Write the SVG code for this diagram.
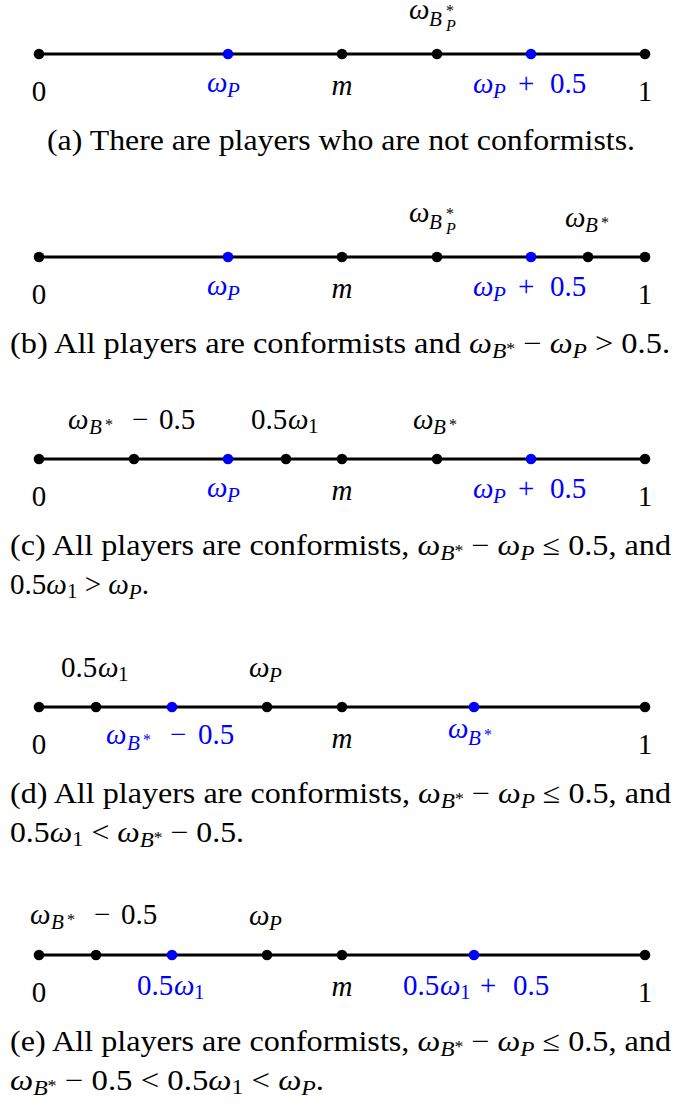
<svg xmlns="http://www.w3.org/2000/svg" width="675" height="1112" viewBox="0 0 675 1112">
<style>
text{font-family:"Liberation Serif","Times New Roman",serif;font-size:29px;fill:#000}
.i{font-style:italic}
.s{font-size:21px}
.ss{font-size:16px}
.b{fill:#0000ff}
.ln{stroke:#000;stroke-width:3.2;fill:none}
.dk{fill:#000}
.db{fill:#0000ff}
</style>
<rect width="675" height="1112" fill="#fff"/>

<!-- connectors -->
<g id="connectors">
<line class="ln" x1="39" y1="54" x2="645" y2="54"/>
<line class="ln" x1="39" y1="257" x2="645" y2="257"/>
<line class="ln" x1="39" y1="459" x2="645" y2="459"/>
<line class="ln" x1="39" y1="707" x2="645" y2="707"/>
<line class="ln" x1="39" y1="955" x2="645" y2="955"/>
</g>

<!-- Panel a -->
<g id="a-0"><circle class="dk" cx="39" cy="54" r="5.3"/><text x="39" y="101" text-anchor="middle">0</text></g>
<g id="a-wp"><circle class="db" cx="228" cy="54" r="5.3"/><text class="b"><tspan class="i" x="207" y="92">ω</tspan><tspan class="i s" x="227" y="97">P</tspan></text></g>
<g id="a-m"><circle class="dk" cx="342" cy="54" r="5.3"/><text class="i" x="342" y="95" text-anchor="middle">m</text></g>
<g id="a-wbp"><circle class="dk" cx="437" cy="54" r="5.3"/><text><tspan class="i" x="409" y="19">ω</tspan><tspan class="i s" x="429" y="26">B</tspan><tspan class="ss" x="446" y="16">*</tspan><tspan class="i ss" x="446" y="31">P</tspan></text></g>
<g id="a-wp05"><circle class="db" cx="531" cy="54" r="5.3"/><text class="b"><tspan class="i" x="473" y="93">ω</tspan><tspan class="i s" x="493" y="98">P</tspan><tspan x="518" y="93">+</tspan><tspan x="550" y="93">0.5</tspan></text></g>
<g id="a-1"><circle class="dk" cx="645" cy="54" r="5.3"/><text x="645" y="101" text-anchor="middle">1</text></g>
<text id="cap-a" x="47" y="150" textLength="588" lengthAdjust="spacingAndGlyphs">(a) There are players who are not conformists.</text>

<!-- Panel b -->
<g id="b-0"><circle class="dk" cx="39" cy="257" r="5.3"/><text x="39" y="304" text-anchor="middle">0</text></g>
<g id="b-wp"><circle class="db" cx="228" cy="257" r="5.3"/><text class="b"><tspan class="i" x="207" y="295">ω</tspan><tspan class="i s" x="227" y="300">P</tspan></text></g>
<g id="b-m"><circle class="dk" cx="342" cy="257" r="5.3"/><text class="i" x="342" y="298" text-anchor="middle">m</text></g>
<g id="b-wbp"><circle class="dk" cx="437" cy="257" r="5.3"/><text><tspan class="i" x="409" y="222">ω</tspan><tspan class="i s" x="429" y="229">B</tspan><tspan class="ss" x="446" y="219">*</tspan><tspan class="i ss" x="446" y="234">P</tspan></text></g>
<g id="b-wp05"><circle class="db" cx="531" cy="257" r="5.3"/><text class="b"><tspan class="i" x="473" y="296">ω</tspan><tspan class="i s" x="493" y="301">P</tspan><tspan x="518" y="296">+</tspan><tspan x="550" y="296">0.5</tspan></text></g>
<g id="b-wb"><circle class="dk" cx="588" cy="257" r="5.3"/><text><tspan class="i" x="565" y="227">ω</tspan><tspan class="i s" x="585" y="232">B</tspan><tspan class="ss" x="601" y="228">*</tspan></text></g>
<g id="b-1"><circle class="dk" cx="645" cy="257" r="5.3"/><text x="645" y="304" text-anchor="middle">1</text></g>
<text id="cap-b" x="10" y="353" textLength="660" lengthAdjust="spacingAndGlyphs">(b) All players are conformists and <tspan class="i">ω</tspan><tspan class="i s" dy="5">B</tspan><tspan class="ss" dy="-4">*</tspan><tspan dy="-1"> − </tspan><tspan class="i">ω</tspan><tspan class="i s" dy="5">P</tspan><tspan dy="-5"> &gt; 0.5.</tspan></text>

<!-- Panel c -->
<g id="c-0"><circle class="dk" cx="39" cy="459" r="5.3"/><text x="39" y="506" text-anchor="middle">0</text></g>
<g id="c-wbm"><circle class="dk" cx="134" cy="459" r="5.3"/><text><tspan class="i" x="68" y="429">ω</tspan><tspan class="i s" x="89" y="434">B</tspan><tspan class="ss" x="105" y="430">*</tspan><tspan x="132" y="429">−</tspan><tspan x="159" y="429">0.5</tspan></text></g>
<g id="c-wp"><circle class="db" cx="228" cy="459" r="5.3"/><text class="b"><tspan class="i" x="207" y="497">ω</tspan><tspan class="i s" x="227" y="502">P</tspan></text></g>
<g id="c-hw1"><circle class="dk" cx="286" cy="459" r="5.3"/><text><tspan x="251" y="429">0.5</tspan><tspan class="i" x="288" y="429">ω</tspan><tspan class="s" x="308" y="433">1</tspan></text></g>
<g id="c-m"><circle class="dk" cx="342" cy="459" r="5.3"/><text class="i" x="342" y="500" text-anchor="middle">m</text></g>
<g id="c-wb"><circle class="dk" cx="437" cy="459" r="5.3"/><text><tspan class="i" x="413" y="429">ω</tspan><tspan class="i s" x="433" y="434">B</tspan><tspan class="ss" x="449" y="430">*</tspan></text></g>
<g id="c-wp05"><circle class="db" cx="531" cy="459" r="5.3"/><text class="b"><tspan class="i" x="473" y="498">ω</tspan><tspan class="i s" x="493" y="503">P</tspan><tspan x="518" y="498">+</tspan><tspan x="550" y="498">0.5</tspan></text></g>
<g id="c-1"><circle class="dk" cx="645" cy="459" r="5.3"/><text x="645" y="506" text-anchor="middle">1</text></g>
<text id="cap-c1" x="10" y="555" textLength="661" lengthAdjust="spacingAndGlyphs">(c) All players are conformists, <tspan class="i">ω</tspan><tspan class="i s" dy="5">B</tspan><tspan class="ss" dy="-4">*</tspan><tspan dy="-1"> − </tspan><tspan class="i">ω</tspan><tspan class="i s" dy="5">P</tspan><tspan dy="-5"> ≤ 0.5, and</tspan></text>
<text id="cap-c2" x="10" y="594" textLength="139" lengthAdjust="spacingAndGlyphs">0.5<tspan class="i">ω</tspan><tspan class="s" dy="4">1</tspan><tspan dy="-4"> &gt; </tspan><tspan class="i">ω</tspan><tspan class="i s" dy="5">P</tspan><tspan dy="-5">.</tspan></text>

<!-- Panel d -->
<g id="d-0"><circle class="dk" cx="39" cy="707" r="5.3"/><text x="39" y="754" text-anchor="middle">0</text></g>
<g id="d-hw1"><circle class="dk" cx="96" cy="707" r="5.3"/><text><tspan x="61" y="677">0.5</tspan><tspan class="i" x="98" y="677">ω</tspan><tspan class="s" x="118" y="681">1</tspan></text></g>
<g id="d-wbm"><circle class="db" cx="172" cy="707" r="5.3"/><text class="b"><tspan class="i" x="106" y="744">ω</tspan><tspan class="i s" x="127" y="750">B</tspan><tspan class="ss" x="143" y="745">*</tspan><tspan x="170" y="744">−</tspan><tspan x="198" y="744">0.5</tspan></text></g>
<g id="d-wp"><circle class="dk" cx="267" cy="707" r="5.3"/><text><tspan class="i" x="249" y="677">ω</tspan><tspan class="i s" x="269" y="682">P</tspan></text></g>
<g id="d-m"><circle class="dk" cx="342" cy="707" r="5.3"/><text class="i" x="342" y="748" text-anchor="middle">m</text></g>
<g id="d-wb"><circle class="db" cx="474" cy="707" r="5.3"/><text class="b"><tspan class="i" x="448" y="738">ω</tspan><tspan class="i s" x="468" y="745">B</tspan><tspan class="ss" x="484" y="740">*</tspan></text></g>
<g id="d-1"><circle class="dk" cx="645" cy="707" r="5.3"/><text x="645" y="754" text-anchor="middle">1</text></g>
<text id="cap-d1" x="10" y="803" textLength="661" lengthAdjust="spacingAndGlyphs">(d) All players are conformists, <tspan class="i">ω</tspan><tspan class="i s" dy="5">B</tspan><tspan class="ss" dy="-4">*</tspan><tspan dy="-1"> − </tspan><tspan class="i">ω</tspan><tspan class="i s" dy="5">P</tspan><tspan dy="-5"> ≤ 0.5, and</tspan></text>
<text id="cap-d2" x="10" y="842" textLength="234" lengthAdjust="spacingAndGlyphs">0.5<tspan class="i">ω</tspan><tspan class="s" dy="4">1</tspan><tspan dy="-4"> &lt; </tspan><tspan class="i">ω</tspan><tspan class="i s" dy="5">B</tspan><tspan class="ss" dy="-4">*</tspan><tspan dy="-1"> − 0.5.</tspan></text>

<!-- Panel e -->
<g id="e-0"><circle class="dk" cx="39" cy="955" r="5.3"/><text x="39" y="1002" text-anchor="middle">0</text></g>
<g id="e-wbm"><circle class="dk" cx="96" cy="955" r="5.3"/><text><tspan class="i" x="30" y="924">ω</tspan><tspan class="i s" x="51" y="929">B</tspan><tspan class="ss" x="67" y="925">*</tspan><tspan x="94" y="924">−</tspan><tspan x="121" y="924">0.5</tspan></text></g>
<g id="e-hw1"><circle class="db" cx="172" cy="955" r="5.3"/><text class="b"><tspan x="137" y="995">0.5</tspan><tspan class="i" x="174" y="995">ω</tspan><tspan class="s" x="194" y="999">1</tspan></text></g>
<g id="e-wp"><circle class="dk" cx="267" cy="955" r="5.3"/><text><tspan class="i" x="249" y="925">ω</tspan><tspan class="i s" x="269" y="930">P</tspan></text></g>
<g id="e-m"><circle class="dk" cx="342" cy="955" r="5.3"/><text class="i" x="342" y="996" text-anchor="middle">m</text></g>
<g id="e-hw105"><circle class="db" cx="474" cy="955" r="5.3"/><text class="b"><tspan x="403" y="995">0.5</tspan><tspan class="i" x="440" y="995">ω</tspan><tspan class="s" x="460" y="999">1</tspan><tspan x="480" y="995">+</tspan><tspan x="513" y="995">0.5</tspan></text></g>
<g id="e-1"><circle class="dk" cx="645" cy="955" r="5.3"/><text x="645" y="1002" text-anchor="middle">1</text></g>
<text id="cap-e1" x="10" y="1051" textLength="661" lengthAdjust="spacingAndGlyphs">(e) All players are conformists, <tspan class="i">ω</tspan><tspan class="i s" dy="5">B</tspan><tspan class="ss" dy="-4">*</tspan><tspan dy="-1"> − </tspan><tspan class="i">ω</tspan><tspan class="i s" dy="5">P</tspan><tspan dy="-5"> ≤ 0.5, and</tspan></text>
<text id="cap-e2" x="10" y="1090" textLength="314" lengthAdjust="spacingAndGlyphs"><tspan class="i">ω</tspan><tspan class="i s" dy="5">B</tspan><tspan class="ss" dy="-4">*</tspan><tspan dy="-1"> − 0.5 &lt; 0.5</tspan><tspan class="i">ω</tspan><tspan class="s" dy="4">1</tspan><tspan dy="-4"> &lt; </tspan><tspan class="i">ω</tspan><tspan class="i s" dy="5">P</tspan><tspan dy="-5">.</tspan></text>
</svg>
